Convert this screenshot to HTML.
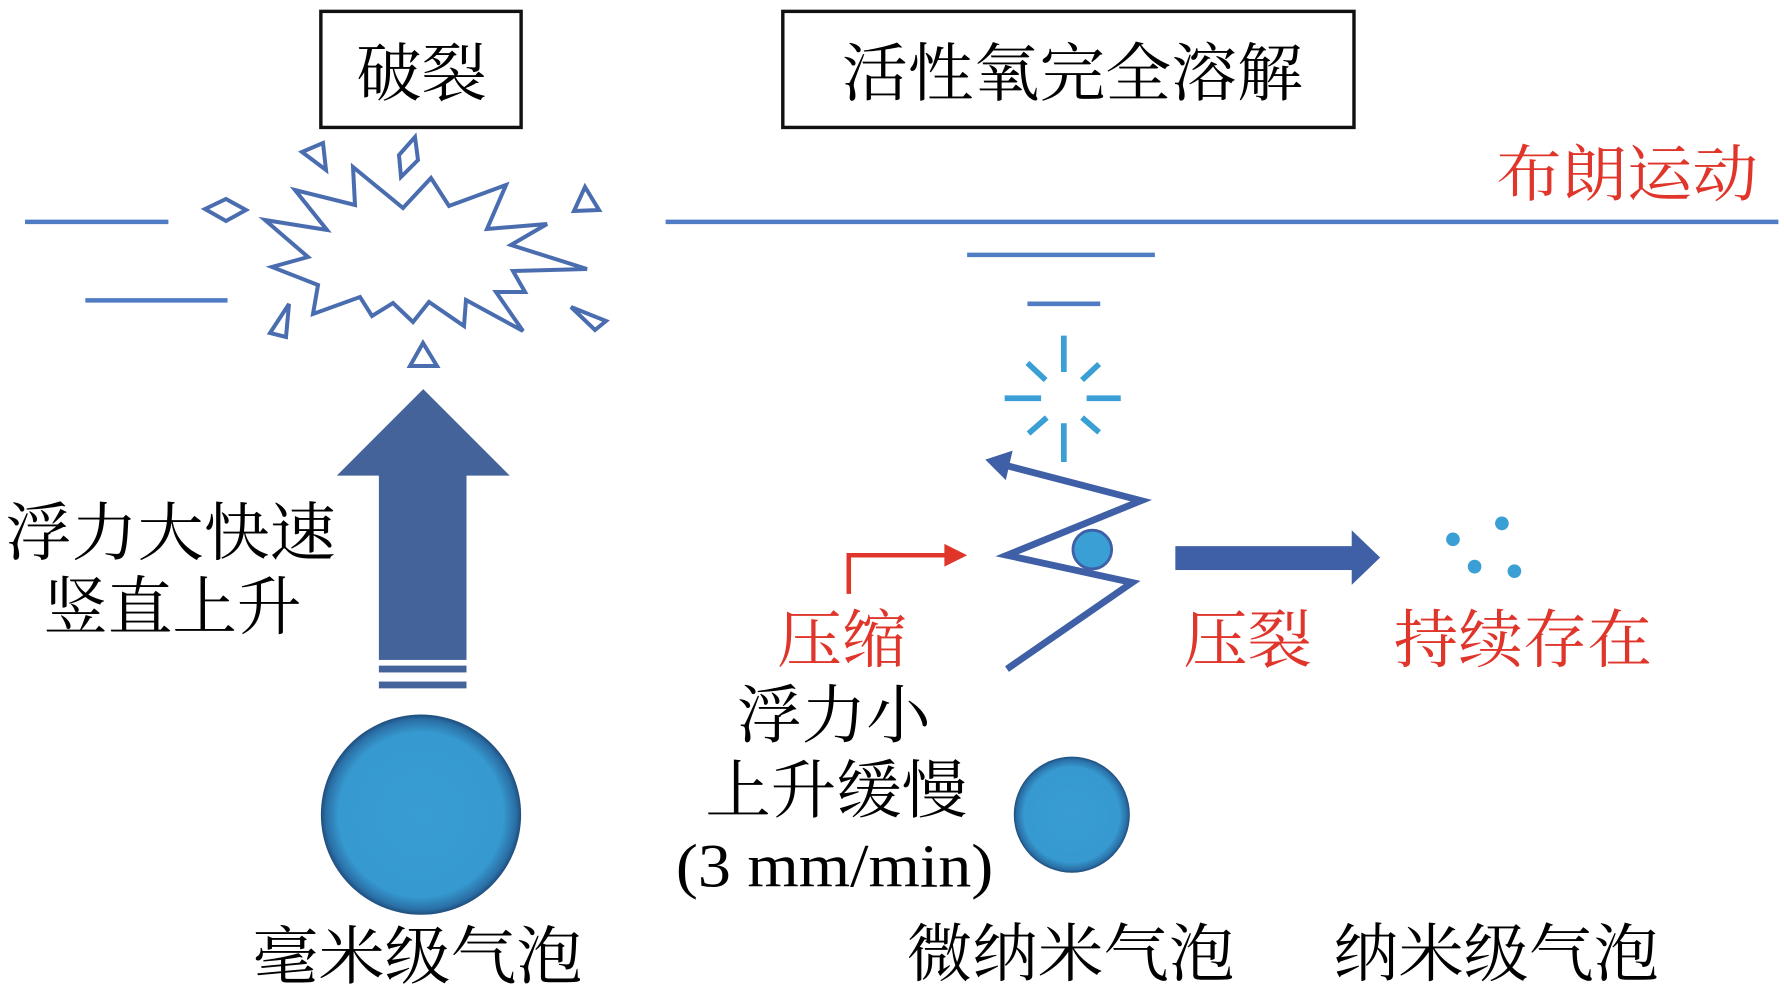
<!DOCTYPE html>
<html><head><meta charset="utf-8"><style>
html,body{margin:0;padding:0;background:#fff;}
svg{display:block;}
text{font-family:"Liberation Serif","Noto Serif CJK SC",serif;}
</style></head><body>
<svg width="1784" height="1004" viewBox="0 0 1784 1004" xmlns="http://www.w3.org/2000/svg">
<defs>
<radialGradient id="g" cx="50%" cy="50%" r="50%">
<stop offset="0" stop-color="#389dd2"/><stop offset="0.82" stop-color="#369ad0"/><stop offset="0.95" stop-color="#2a6fa6"/><stop offset="1" stop-color="#1f4d7c"/>
</radialGradient>
</defs>
<!-- star & fragments in real coords -->
<g fill="none" stroke="#4a6db0" stroke-width="4" stroke-linejoin="miter">
<polygon points="265,220 327,230 295,190 355,205 353,167 403,208 431,178 449,206 506,185 487,229 547,224 511,245 587,269 513,271 525,292 496,292 523,331 466,300 464,326 429,302 413,322 393,303 372,316 360,297 313,314 318,285 272,267 308,257"/>
<polygon points="302,152 323,143 326,170"/>
<polygon points="415,137 418,160 401,177 399,155"/>
<polygon points="205,209 226,199 246,210 226,221"/>
<polygon points="585,187 574,211 599,210"/>
<polygon points="571,307 606,321 595,330"/>
<polygon points="289,304 286,337 270,333"/>
<polygon points="423,343 410,366 437,366"/>
</g>
<g transform="scale(1.1378)">
<rect x="282" y="10" width="176" height="102" fill="none" stroke="#111" stroke-width="3"/>
<rect x="688" y="10" width="502" height="102" fill="none" stroke="#111" stroke-width="3"/>
<text x="313" y="84" font-size="56" textLength="115" lengthAdjust="spacingAndGlyphs">破裂</text>
<text x="740" y="84" font-size="56" textLength="405" lengthAdjust="spacingAndGlyphs">活性氧完全溶解</text>
<text x="1315" y="172" font-size="54" fill="#e0352b" textLength="230" lengthAdjust="spacingAndGlyphs">布朗运动</text>
<g stroke="#4f7cc2" stroke-width="4">
<line x1="22" y1="195" x2="148" y2="195"/>
<line x1="75" y1="264" x2="200" y2="264"/>
<line x1="585" y1="195" x2="1563" y2="195"/>
<line x1="850" y1="224" x2="1015" y2="224"/>
<line x1="903" y1="267" x2="967" y2="267"/>
</g>
<!-- big arrow -->
<g fill="#44639a">
<rect x="333" y="416" width="77" height="164"/>
<polygon points="296,418 448,418 372,342"/>
<rect x="333" y="585" width="77" height="6"/>
<rect x="333" y="599" width="77" height="6"/>
</g>
<circle cx="370" cy="716" r="88" fill="url(#g)"/>
<text x="5" y="488" font-size="56" textLength="290" lengthAdjust="spacingAndGlyphs">浮力大快速</text>
<text x="38" y="553" font-size="56" textLength="227" lengthAdjust="spacingAndGlyphs">竖直上升</text>
<text x="222" y="860" font-size="56" textLength="290" lengthAdjust="spacingAndGlyphs">毫米级气泡</text>
<!-- sparkle -->
<g stroke="#3a9fd4" stroke-width="5">
<line x1="935" y1="295" x2="935" y2="327"/>
<line x1="935" y1="372" x2="935" y2="406"/>
<line x1="883" y1="350" x2="915" y2="350"/>
<line x1="955" y1="350" x2="985" y2="350"/>
<line x1="903" y1="319" x2="919" y2="334"/>
<line x1="966" y1="320" x2="951" y2="334"/>
<line x1="904" y1="381" x2="920" y2="367"/>
<line x1="966" y1="380" x2="951" y2="367"/>
</g>
<!-- zigzag -->
<polyline points="880,408 1003,440 885,488 995,512 885,588" fill="none" stroke="#3f5fa6" stroke-width="6" stroke-linejoin="miter"/>
<polygon points="866,404 890,396 884,422" fill="#3f5fa6"/>
<circle cx="960" cy="483" r="17" fill="#3a9fd4" stroke="#3f5fa6" stroke-width="2.5"/>
<!-- red arrow -->
<polyline points="746,522 746,488 832,488" fill="none" stroke="#e0352b" stroke-width="4"/>
<polygon points="830,478 850,488 830,498" fill="#e0352b"/>
<text x="683" y="582" font-size="56" fill="#e0352b" textLength="114" lengthAdjust="spacingAndGlyphs">压缩</text>
<text x="648" y="648" font-size="56" textLength="170" lengthAdjust="spacingAndGlyphs">浮力小</text>
<text x="620" y="714" font-size="56" textLength="230" lengthAdjust="spacingAndGlyphs">上升缓慢</text>
<text x="594" y="779" font-size="54" textLength="279" lengthAdjust="spacingAndGlyphs">(3 mm/min)</text>
<circle cx="942" cy="716" r="51" fill="url(#g)"/>
<!-- right arrow -->
<g fill="#3f5fa6">
<rect x="1033" y="480" width="158" height="21"/>
<polygon points="1188,466 1213,490 1188,514"/>
</g>
<g fill="#3a9fd4">
<circle cx="1277" cy="474" r="6"/><circle cx="1320" cy="460" r="6"/>
<circle cx="1296" cy="498" r="6"/><circle cx="1331" cy="502" r="6"/>
</g>
<text x="1040" y="582" font-size="56" fill="#e0352b" textLength="113" lengthAdjust="spacingAndGlyphs">压裂</text>
<text x="1225" y="582" font-size="56" fill="#e0352b" textLength="227" lengthAdjust="spacingAndGlyphs">持续存在</text>
<text x="797" y="858" font-size="56" textLength="288" lengthAdjust="spacingAndGlyphs">微纳米气泡</text>
<text x="1172" y="858" font-size="56" textLength="286" lengthAdjust="spacingAndGlyphs">纳米级气泡</text>
</g>
</svg>
</body></html>
